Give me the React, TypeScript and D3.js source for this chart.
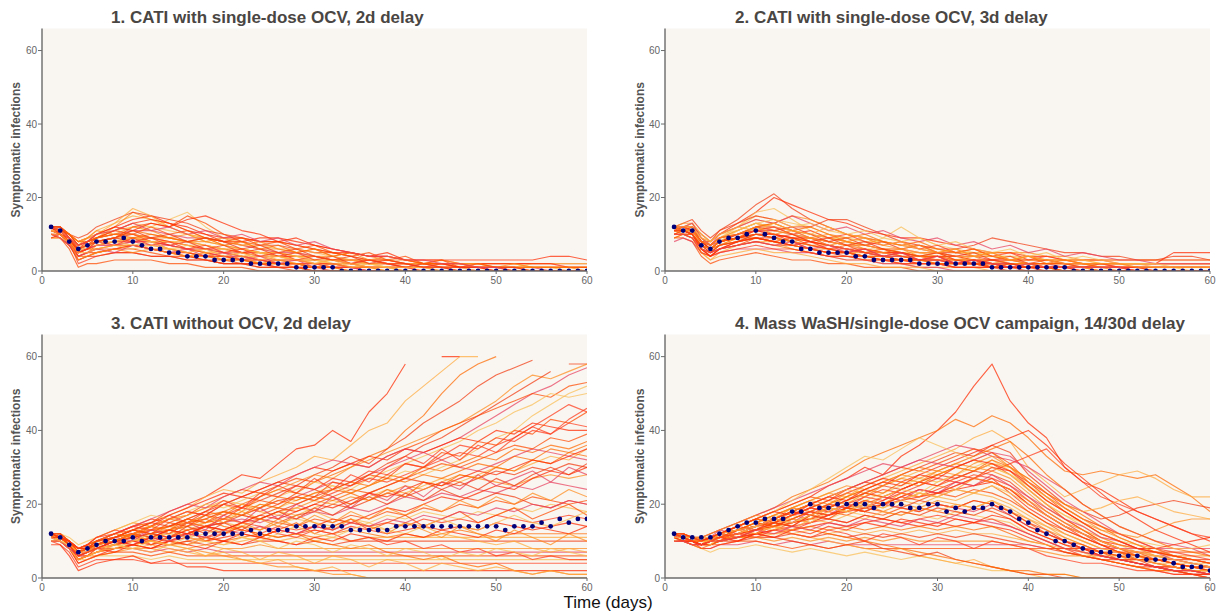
import React from 'react';
import * as d3 from 'd3';

// ---------- DATA ----------
// Grid of days on which each simulated run is recorded
const RUN_DAYS = [1, 2, 3, 4, 5, 6, 8, 10, 12, 14, 16, 18, 20, 22, 24, 26, 28, 30, 32, 34, 36, 38, 40, 42, 44, 46, 48, 50, 52, 54, 56, 58, 60];

const X_TICKS = [0, 10, 20, 30, 40, 50, 60];
const Y_TICKS = [0, 20, 40, 60];

const TITLES = [
  '1. CATI with single-dose OCV, 2d delay',
  '2. CATI with single-dose OCV, 3d delay',
  '3. CATI without OCV, 2d delay',
  '4. Mass WaSH/single-dose OCV campaign, 14/30d delay',
];

// Median (navy dots), days 1..60
const MEDIAN_1 = [12, 11, 8, 6, 7, 8, 8, 8, 9, 8, 7, 6, 6, 5, 5, 4, 4, 4, 3, 3, 3, 3, 2, 2, 2, 2, 2, 1, 1, 1, 1, 1, 0, 0, 0, 0, 0, 0, 0, 0, 0, 0, 0, 0, 0, 0, 0, 0, 0, 0, 0, 0, 0, 0, 0, 0, 0, 0, 0, 0];
const MEDIAN_2 = [12, 11, 11, 7, 6, 8, 9, 9, 10, 11, 10, 9, 8, 8, 6, 6, 5, 5, 5, 5, 4, 4, 3, 3, 3, 3, 3, 2, 2, 2, 2, 2, 2, 2, 2, 1, 1, 1, 1, 1, 1, 1, 1, 1, 0, 0, 0, 0, 0, 0, 0, 0, 0, 0, 0, 0, 0, 0, 0, 0];
const MEDIAN_3 = [12, 11, 9, 7, 8, 9, 10, 10, 10, 11, 10, 11, 11, 11, 11, 11, 12, 12, 12, 12, 12, 12, 13, 12, 13, 13, 13, 14, 14, 14, 14, 14, 14, 13, 13, 13, 13, 13, 14, 14, 14, 14, 14, 14, 14, 14, 14, 14, 14, 14, 13, 14, 14, 14, 15, 14, 16, 15, 16, 16];
const MEDIAN_4 = [12, 11, 11, 11, 11, 12, 13, 14, 15, 15, 16, 16, 16, 18, 18, 20, 19, 19, 20, 20, 20, 20, 19, 20, 20, 20, 19, 19, 20, 20, 18, 19, 18, 19, 19, 20, 19, 18, 16, 15, 13, 12, 10, 10, 9, 8, 7, 7, 7, 6, 6, 6, 5, 5, 5, 4, 3, 3, 3, 2];

// Simulated runs (values on RUN_DAYS; x = above the plotted range)
const RUNS_1 = [
  '12 11 9 6 7 8 9 10 8 7 6 5 4 3 3 2 2 1 1 1 0 0 0 0 0 0 0 0 0 0 0 0 0',
  '11 10 8 5 6 7 8 9 8 6 5 4 4 3 2 2 1 1 1 0 0 0 0 0 0 0 0 0 0 0 0 0 0',
  '12 12 10 8 9 11 13 15 14 12 10 9 7 6 5 4 3 3 2 2 1 1 1 0 0 0 0 0 0 0 0 0 0',
  '10 9 7 3 4 5 6 7 6 5 4 3 3 2 2 1 1 0 0 0 0 0 0 0 0 0 0 0 0 0 0 0 0',
  '12 11 10 7 8 9 12 16 14 13 11 9 8 7 6 6 5 4 4 3 3 2 2 2 2 1 1 1 1 1 1 1 1',
  '11 11 9 6 6 7 7 8 7 7 6 6 5 5 4 4 3 3 3 2 2 2 1 1 1 1 0 0 0 0 0 0 0',
  '12 10 8 4 5 5 6 6 5 4 4 3 2 2 1 1 1 0 0 0 0 0 0 0 0 0 0 0 0 0 0 0 0',
  '9 9 7 5 7 9 11 13 12 14 16 12 9 8 6 5 4 3 2 2 1 1 0 0 0 0 0 0 0 0 0 0 0',
  '12 11 8 2 3 4 5 5 4 4 3 3 2 2 2 1 1 1 0 0 0 0 0 0 0 0 0 0 0 0 0 0 0',
  '11 12 10 8 9 10 12 14 15 13 12 10 9 9 8 8 7 6 5 5 4 4 3 3 3 3 3 3 3 3 4 4 3',
  '12 11 9 6 7 8 9 11 10 9 8 7 6 5 4 3 3 2 2 1 1 1 0 0 0 0 0 0 0 0 0 0 0',
  '10 10 8 6 6 6 7 7 7 6 6 5 5 4 4 4 3 3 3 3 2 2 2 1 1 1 1 1 0 0 0 0 0',
  '12 11 10 9 10 12 14 16 15 14 13 11 10 8 7 7 6 5 5 4 3 3 2 2 2 2 2 2 2 2 2 2 2',
  '11 10 9 4 5 7 8 9 9 8 7 6 5 4 3 3 2 2 2 1 1 0 0 0 0 0 0 0 0 0 0 0 0',
  '12 12 9 7 8 9 10 11 11 10 9 9 8 7 6 5 5 4 3 3 3 2 2 1 1 1 1 1 1 1 0 0 0',
  '10 9 6 1 2 2 3 3 3 2 2 1 1 1 0 0 0 0 0 0 0 0 0 0 0 0 0 0 0 0 0 0 0',
  '12 11 10 8 9 10 11 12 12 11 10 8 7 6 5 4 4 3 3 2 2 1 1 1 1 1 0 0 0 0 0 0 0',
  '11 11 8 5 6 7 8 8 8 7 6 5 4 4 3 3 3 2 2 2 1 1 1 1 1 1 1 1 1 1 1 1 1',
  '12 10 8 6 7 9 10 10 9 8 7 6 6 5 5 4 4 4 3 3 2 2 1 1 1 0 0 0 0 0 0 0 0',
  '9 9 7 4 4 5 6 7 6 6 5 4 3 3 2 2 2 1 1 1 1 1 1 1 0 0 0 0 0 0 0 0 0',
  '12 11 9 7 8 10 13 17 15 12 10 9 8 7 7 6 6 5 4 3 3 3 2 2 2 2 2 2 2 1 1 1 1',
  '11 10 7 3 4 4 5 5 4 4 3 3 2 2 1 1 0 0 0 0 0 0 0 0 0 0 0 0 0 0 0 0 0',
  '12 12 10 8 9 9 10 10 9 9 8 8 7 6 5 5 4 4 3 3 3 2 2 2 2 2 1 1 1 1 1 1 1',
  '10 10 8 5 6 7 7 8 8 7 6 6 5 4 3 2 2 1 1 1 0 0 0 0 0 0 0 0 0 0 0 0 0',
  '12 11 9 6 7 8 9 12 13 12 15 13 10 9 8 8 7 6 5 4 3 3 2 2 1 1 1 1 0 0 0 0 0',
  '11 11 9 7 7 8 8 9 8 8 7 7 6 6 5 4 3 3 2 2 2 1 1 1 1 1 1 1 1 2 2 2 2',
  '12 10 8 4 5 6 6 7 6 5 5 4 4 3 3 2 2 2 1 1 1 1 1 0 0 0 0 0 0 0 0 0 0',
  '11 11 10 7 8 9 11 13 14 13 11 10 8 8 9 9 8 7 6 5 4 4 3 3 3 2 2 2 2 2 2 1 1',
  '12 11 9 5 6 6 7 7 6 5 4 4 3 3 2 2 2 1 1 0 0 0 0 0 0 0 0 0 0 0 0 0 0',
  '10 9 8 6 7 8 9 9 8 8 8 7 6 6 5 5 4 4 3 3 2 2 2 2 2 2 2 1 1 1 1 0 0',
  '11 10 8 5 6 8 9 8 9 7 8 6 7 5 6 4 5 3 4 2 3 2 1 2 1 0 0 0 0 0 0 0 0',
  '12 11 9 7 9 11 10 12 11 9 10 8 9 7 8 6 5 6 4 5 3 4 3 2 3 2 2 1 2 1 1 1 0',
  '10 9 7 4 5 6 5 7 6 5 6 4 5 3 4 2 3 1 2 1 0 0 0 0 0 0 0 0 0 0 0 0 0',
  '12 12 10 7 8 9 11 10 12 10 11 9 8 9 7 8 6 7 5 4 5 3 4 2 3 1 2 1 1 0 0 0 0',
  '11 11 9 6 7 7 8 7 8 6 7 5 6 4 5 3 4 2 3 1 2 1 0 0 0 0 0 0 0 0 0 0 0',
  '12 10 9 5 6 8 7 9 7 8 6 7 5 6 4 5 3 4 3 2 3 2 2 1 2 1 1 0 0 0 0 0 0',
  '9 10 8 6 8 10 12 11 13 12 14 15 13 11 10 8 9 7 6 5 4 5 3 2 2 1 1 0 0 0 0 0 0',
  '12 11 10 8 8 9 10 9 10 9 8 9 7 8 6 7 5 6 4 5 4 3 3 2 2 2 1 1 1 1 1 1 1',
  '11 10 8 5 5 6 7 6 7 6 5 6 4 5 3 4 3 2 3 2 1 1 1 1 0 0 0 0 0 0 0 0 0',
  '12 12 9 6 7 8 9 11 9 10 8 9 8 6 7 5 6 4 3 4 2 3 2 1 1 1 1 1 1 0 0 0 0',
  '10 10 8 3 4 5 6 5 6 5 4 5 3 4 2 3 2 1 2 1 1 0 0 0 0 0 0 0 0 0 0 0 0',
  '12 11 9 7 8 10 11 13 11 12 10 11 9 10 8 9 7 8 6 5 4 4 3 3 2 2 1 1 0 0 0 0 0',
];

const RUNS_2 = [
  '12 11 11 7 6 8 9 11 10 8 6 5 5 4 3 3 2 2 2 2 1 1 1 1 1 0 0 0 0 0 0 0 0',
  '11 12 13 9 7 9 11 13 12 10 8 7 6 5 4 4 3 3 2 2 2 1 1 1 0 0 0 0 0 0 0 0 0',
  '10 10 9 5 3 5 7 8 8 6 5 4 3 3 2 2 1 1 1 1 0 0 0 0 0 0 0 0 0 0 0 0 0',
  '12 13 14 11 9 11 14 18 21 17 14 12 10 9 8 7 6 5 5 4 4 3 3 3 3 3 3 3 3 3 4 4 3',
  '11 11 10 6 5 7 9 10 9 8 7 6 5 5 4 4 3 3 3 3 2 2 2 2 2 2 1 1 1 1 1 1 1',
  '12 12 11 8 7 9 10 12 12 11 9 8 7 6 5 5 4 4 3 3 3 2 2 2 1 1 1 1 0 0 0 0 0',
  '9 9 8 4 2 3 4 5 4 3 3 2 2 1 1 1 0 0 0 0 0 0 0 0 0 0 0 0 0 0 0 0 0',
  '12 11 12 9 8 10 12 15 14 13 12 10 8 7 6 5 4 4 3 3 2 2 2 1 1 1 1 1 1 1 1 0 0',
  '11 10 10 7 6 7 8 9 9 8 7 6 6 5 5 4 4 3 3 2 2 2 1 1 1 1 0 0 0 0 0 0 0',
  '12 12 11 8 8 10 13 16 20 18 16 14 13 11 10 9 9 8 7 6 5 5 4 4 3 3 3 2 2 2 2 2 2',
  '10 11 10 6 4 6 7 8 7 6 5 4 4 3 3 2 2 2 1 1 1 1 1 1 0 0 0 0 0 0 0 0 0',
  '12 12 12 9 7 8 10 11 11 10 9 8 7 6 6 5 5 4 4 3 3 2 2 2 2 2 2 2 2 2 2 2 2',
  '11 11 10 7 5 6 7 8 7 7 6 5 4 4 3 3 3 3 2 2 2 2 2 1 1 1 1 1 1 1 1 1 1',
  '12 13 13 10 8 10 12 14 13 15 14 12 10 9 8 7 7 6 5 5 5 5 5 4 4 3 3 3 3 3 3 3 3',
  '8 9 8 5 4 5 6 6 6 5 5 4 3 3 2 2 1 1 0 0 0 0 0 0 0 0 0 0 0 0 0 0 0',
  '12 11 11 8 6 8 9 10 10 9 8 7 6 5 4 3 3 3 2 2 1 1 1 1 1 1 1 1 1 0 0 0 0',
  '11 12 12 9 7 9 12 16 17 14 11 9 8 7 9 12 9 7 6 5 4 4 3 3 2 2 2 2 1 1 1 1 1',
  '12 11 10 6 5 6 8 9 8 7 6 5 5 4 4 3 2 2 1 1 1 0 0 0 0 0 0 0 0 0 0 0 0',
  '10 10 10 7 6 8 9 11 10 9 8 7 6 6 5 5 4 4 4 3 3 3 2 2 2 2 2 2 2 2 2 2 2',
  '12 12 11 8 7 9 10 12 13 11 10 9 8 7 6 5 4 4 3 3 2 2 2 2 2 1 1 1 1 1 1 1 1',
  '11 10 9 5 3 4 5 6 5 5 4 3 2 2 1 1 1 0 0 0 0 0 0 0 0 0 0 0 0 0 0 0 0',
  '12 12 12 10 8 11 13 15 14 12 12 14 14 12 10 8 7 6 6 7 9 8 7 6 5 5 4 4 3 3 3 3 3',
  '11 11 10 7 6 7 9 10 9 8 7 7 6 5 5 4 4 3 3 3 2 2 2 1 1 1 0 0 0 0 0 0 0',
  '12 11 11 8 7 8 10 11 11 10 9 7 6 5 4 4 3 3 2 2 2 2 1 1 1 1 1 1 1 1 1 1 1',
  '10 11 11 8 6 8 9 9 8 7 6 5 5 4 3 3 3 2 2 2 1 1 1 1 1 1 1 1 0 0 0 0 0',
  '12 12 13 10 8 10 11 13 12 11 10 9 9 8 8 7 6 6 5 5 4 4 4 3 3 3 2 2 2 2 2 2 2',
  '11 11 10 6 4 5 6 7 6 6 5 4 4 3 3 2 2 2 1 1 1 1 0 0 0 0 0 0 0 0 0 0 0',
  '12 12 11 8 6 8 9 10 10 9 9 8 7 7 6 6 5 5 4 4 3 3 3 3 2 2 2 2 2 2 5 5 5',
  '9 10 9 6 5 7 8 9 8 7 6 6 5 4 4 3 3 2 2 2 2 1 1 1 1 1 1 0 0 0 0 0 0',
  '12 12 11 9 7 9 11 13 11 10 9 8 7 7 6 6 5 5 4 4 4 3 3 3 3 3 2 2 2 2 2 2 2',
  '12 11 12 8 6 8 10 12 11 12 10 8 9 7 8 6 7 5 4 5 3 4 2 3 2 1 2 1 1 0 0 0 0',
  '11 11 10 6 5 7 8 10 9 8 9 7 8 6 5 6 4 5 3 4 2 3 2 1 1 1 0 0 0 0 0 0 0',
  '12 12 13 9 7 10 12 14 13 15 13 11 12 10 11 9 8 9 7 8 6 7 5 6 4 5 4 3 3 2 2 2 2',
  '10 10 9 5 4 6 7 9 8 9 7 6 7 5 6 4 3 4 2 3 1 2 1 1 0 0 0 0 0 0 0 0 0',
  '12 11 11 7 6 8 11 13 14 12 13 11 10 11 9 8 9 7 8 6 5 6 4 5 3 4 3 2 2 2 1 1 1',
  '11 12 11 8 7 9 10 11 12 10 11 9 10 8 7 8 6 7 5 6 4 5 3 4 3 2 2 1 1 1 1 1 1',
  '12 11 10 6 4 6 8 9 8 7 8 6 5 6 4 5 3 4 2 3 2 1 1 0 0 0 0 0 0 0 0 0 0',
  '9 10 10 7 6 8 9 12 13 11 12 10 9 10 8 7 8 6 5 6 4 3 4 2 3 2 1 1 0 0 0 0 0',
  '12 12 12 9 8 10 12 11 13 11 10 12 10 9 7 8 6 5 6 4 5 3 4 3 2 2 2 2 2 1 1 1 1',
  '11 11 10 7 5 7 8 10 9 10 8 9 7 8 6 5 4 5 3 2 3 2 1 1 1 0 0 0 0 0 0 0 0',
  '12 11 11 8 7 9 10 12 10 11 9 10 8 9 7 6 7 5 6 4 5 3 4 3 3 2 2 2 1 1 1 1 1',
  '10 10 9 6 5 6 7 8 7 8 6 7 5 6 4 5 3 4 2 3 2 1 2 1 1 1 1 1 0 0 0 0 0',
];

const RUNS_3 = [
  '12 11 10 8 9 10 12 14 15 18 20 22 25 28 27 31 35 36 40 37 45 50 58 x 60 60 x x x x x x x',
  '11 11 9 6 7 8 10 12 13 14 16 18 17 20 22 24 23 26 28 30 33 35 40 44 50 55 58 60 x x x x x',
  '12 10 9 7 8 9 11 13 15 17 19 22 24 23 26 28 30 33 32 36 40 42 48 52 56 60 60 x x x x x x',
  '12 11 9 7 8 9 11 12 14 16 18 17 20 22 24 26 25 28 30 33 31 35 38 42 45 48 52 55 57 59 x 58 58',
  '12 12 10 8 9 11 13 15 14 16 17 19 20 18 22 24 26 28 27 30 32 34 36 38 40 42 45 48 52 55 54 56 58',
  '11 11 9 6 7 8 10 11 13 12 15 16 18 17 19 21 22 24 26 25 28 30 32 34 36 38 41 44 47 50 52 55 57',
  '12 11 10 8 8 10 12 14 16 15 17 20 22 24 23 25 27 26 29 31 30 33 35 37 40 42 44 46 48 50 49 52 53',
  '10 10 8 5 6 8 9 11 12 13 14 15 16 18 20 19 21 23 25 24 27 29 31 33 35 37 40 42 45 47 50 49 50',
  '12 11 9 7 8 9 10 12 13 14 16 15 17 19 18 20 22 21 23 25 27 26 28 30 32 34 33 36 38 41 44 47 45',
  '11 12 10 7 8 10 11 13 15 17 19 21 23 22 24 26 28 30 29 31 33 32 35 34 36 38 37 40 39 42 41 40 40',
  '12 11 10 8 9 10 12 13 14 16 15 17 18 20 19 22 21 23 24 26 25 28 27 30 29 31 33 32 35 34 36 35 37',
  '12 10 8 6 7 8 9 10 11 12 13 14 15 14 16 18 17 19 21 20 22 24 23 25 27 26 28 30 29 31 33 32 35',
  '11 11 9 7 8 9 10 11 12 11 13 14 13 15 16 15 17 18 20 19 21 23 22 24 26 25 27 29 28 30 29 31 30',
  '12 11 10 7 8 9 11 12 13 14 13 15 16 17 16 18 19 21 20 22 21 23 25 24 26 28 27 26 25 27 28 27 28',
  '12 12 9 7 7 8 10 11 12 13 12 14 15 16 15 17 16 18 17 19 18 20 22 21 23 22 24 23 25 24 26 25 24',
  '10 10 8 6 6 7 9 10 11 10 12 13 12 14 13 15 14 16 15 17 16 18 17 19 18 20 19 21 20 22 21 20 21',
  '12 11 9 6 7 8 9 10 11 12 11 12 13 14 13 15 16 15 14 16 15 17 16 18 17 16 18 17 19 18 20 19 18',
  '11 11 10 7 8 9 10 11 10 11 12 11 12 13 12 14 13 14 13 15 14 15 14 16 15 16 15 17 16 15 16 17 16',
  '12 11 9 7 8 8 9 10 9 10 11 10 11 12 11 13 12 13 12 14 13 12 13 14 13 14 13 15 14 13 14 15 14',
  '12 10 8 5 6 7 8 9 10 9 10 11 10 11 12 11 12 11 12 13 12 11 12 11 12 13 12 11 12 12 12 12 12',
  '11 11 9 6 7 8 9 9 10 9 9 10 9 10 11 10 11 10 11 10 11 11 11 11 11 11 11 11 11 11 11 11 11',
  '12 11 9 7 7 8 8 9 8 9 10 9 10 9 10 10 9 10 9 10 10 10 10 10 10 10 10 10 10 10 10 10 10',
  '10 10 8 5 6 6 7 8 8 7 8 9 8 8 9 8 8 8 8 8 8 8 8 8 8 8 8 8 8 8 8 8 8',
  '12 11 9 6 6 7 8 8 7 8 7 8 7 7 7 7 7 7 7 7 7 7 7 7 7 7 7 7 7 7 7 7 7',
  '11 10 8 4 5 6 7 7 6 7 6 6 6 6 6 6 6 6 6 6 6 6 6 6 6 6 6 6 6 6 6 6 6',
  '12 11 8 5 5 6 6 6 5 6 5 5 5 5 5 5 5 5 5 5 5 5 5 5 5 5 5 5 5 5 5 5 5',
  '10 9 7 3 4 5 5 5 4 4 4 4 4 4 4 4 4 4 4 4 4 4 4 4 4 4 4 4 4 4 4 4 4',
  '9 9 6 2 3 4 5 6 4 5 3 3 2 2 2 2 2 2 2 2 2 2 2 2 2 2 2 2 2 2 2 2 2',
  '12 11 10 8 9 10 11 13 12 14 15 16 14 13 12 11 12 10 9 8 9 7 6 5 6 4 3 4 2 1 2 1 1',
  '11 12 10 7 8 9 10 12 14 16 17 19 21 20 18 17 19 18 16 15 14 13 15 14 12 11 10 9 10 8 7 8 7',
  '12 11 9 6 7 9 11 13 15 14 16 18 20 22 21 23 25 24 22 20 23 25 27 26 24 22 21 23 22 20 19 21 20',
  '10 10 8 5 6 7 8 9 10 9 8 7 6 5 4 3 3 2 1 1 0 0 0 0 0 0 0 0 0 0 0 0 0',
  '12 11 9 7 8 10 12 14 16 18 20 19 22 24 26 25 28 30 32 31 30 33 35 34 32 30 29 31 33 35 34 33 32',
  '11 11 10 8 8 9 10 11 12 13 15 14 16 15 17 19 18 20 22 24 23 25 27 29 31 30 32 34 36 35 38 37 39',
  '12 12 11 9 10 11 13 15 17 16 18 20 19 21 23 22 24 26 25 23 25 27 29 28 30 32 35 38 40 44 47 50 52',
  '12 11 9 6 7 8 9 10 9 11 12 14 13 15 14 12 11 13 12 10 11 9 10 8 9 7 8 6 7 5 6 5 5',
  '11 10 8 4 5 6 8 9 8 10 9 11 10 12 11 13 12 14 16 15 17 19 18 20 22 21 23 25 24 27 29 28 30',
  '12 11 10 7 8 9 11 12 11 13 14 16 18 17 19 21 20 22 21 23 25 27 26 28 27 29 31 30 33 32 35 34 36',
  '10 10 8 5 6 7 8 8 9 8 7 6 7 5 4 5 3 2 3 1 0 0 0 0 0 0 0 0 0 0 0 0 0',
  '12 11 9 6 7 8 10 12 11 13 12 14 15 17 16 18 20 22 24 26 28 31 33 36 38 41 44 47 50 53 56 x x',
  '12 11 9 7 8 10 9 12 10 13 11 14 12 15 13 16 14 17 15 18 16 19 17 20 18 21 19 22 20 23 21 24 22',
  '11 10 8 6 7 9 11 10 13 12 15 13 17 15 19 16 20 18 22 19 23 21 25 22 26 24 28 25 27 29 26 30 28',
  '12 11 10 7 9 8 10 12 9 11 13 10 12 14 11 13 15 12 14 16 13 15 17 14 16 18 15 17 19 16 18 20 17',
  '10 11 9 6 7 9 8 10 12 10 9 11 13 11 10 12 14 12 11 13 15 13 12 14 16 14 13 15 17 15 14 16 18',
  '12 12 10 8 9 11 13 12 14 17 15 18 21 19 22 25 23 27 24 28 26 30 33 31 35 32 36 34 38 41 39 43 46',
  '11 11 9 5 6 8 7 9 8 10 9 8 10 9 11 10 9 11 10 12 11 10 12 11 13 12 11 13 12 14 13 12 14',
  '12 11 9 7 8 10 12 11 14 13 16 15 18 17 20 19 22 21 24 23 21 24 22 26 25 28 27 30 29 32 31 34 33',
  '12 10 8 5 6 7 9 8 7 9 8 6 8 7 5 7 6 4 6 5 3 5 4 2 4 3 2 3 2 1 2 1 1',
  '11 11 10 8 8 10 11 13 12 11 14 12 15 13 16 18 16 19 17 20 22 20 23 21 24 26 24 27 25 28 30 28 31',
  '12 11 9 6 7 9 10 12 14 12 15 17 15 18 16 14 17 15 13 16 14 12 15 13 11 14 12 10 13 11 9 12 10',
  '10 10 8 6 7 8 10 9 11 10 12 11 13 12 14 13 12 14 13 15 14 16 15 17 16 18 17 19 18 20 19 21 20',
  '12 12 10 7 8 9 11 13 12 15 14 17 16 19 21 20 23 22 26 25 28 27 31 30 34 33 37 36 40 39 43 42 45',
  '11 10 9 7 7 8 9 8 10 9 11 10 9 11 10 8 10 9 7 9 8 6 8 7 5 7 6 8 7 6 8 7 6',
  '12 11 10 8 9 11 12 14 13 16 18 17 20 19 23 22 25 24 27 26 29 28 31 30 33 36 35 38 37 40 39 42 41',
  '12 11 9 6 7 8 10 9 11 13 12 14 13 15 17 16 18 20 19 21 23 22 24 26 25 27 29 28 30 32 31 33 35',
];

const RUNS_4 = [
  '12 11 11 10 11 12 14 16 18 20 22 25 27 30 28 33 36 40 45 52 58 48 42 38 30 26 24 21 18 16 14 12 10',
  '11 11 10 11 12 13 15 17 19 22 24 26 29 32 34 36 38 40 43 41 44 42 38 33 29 28 29 28 27 28 25 22 18',
  '12 12 11 10 11 12 13 15 17 19 21 23 22 25 27 29 31 33 35 38 40 37 30 26 22 24 26 28 29 27 24 22 22',
  '12 11 10 10 11 11 13 14 16 18 20 22 24 26 25 28 30 32 34 33 36 34 28 24 20 18 16 17 19 20 21 20 19',
  '11 10 10 9 10 11 12 14 15 17 19 21 20 23 22 24 26 28 30 32 34 30 25 21 18 15 13 12 11 13 15 16 16',
  '12 11 11 11 12 13 15 17 19 21 23 25 27 29 31 30 32 34 36 35 33 32 30 27 24 20 17 14 12 10 9 8 6',
  '12 12 11 10 11 12 14 16 18 20 22 21 24 26 28 30 29 31 33 35 34 31 26 22 18 15 12 10 8 7 6 5 4',
  '11 11 10 10 10 11 13 15 17 16 18 20 22 21 23 25 27 26 28 30 32 29 24 20 17 14 11 9 7 6 5 4 3',
  '12 11 10 9 10 11 12 13 14 16 18 17 19 21 20 22 24 23 25 27 26 24 20 17 14 12 10 8 7 6 5 4 3',
  '12 11 11 10 11 12 13 14 15 17 19 18 20 19 21 23 22 24 26 25 27 23 19 16 13 11 9 8 6 5 4 3 2',
  '10 10 10 9 10 10 12 14 16 18 17 19 18 20 22 21 23 22 24 23 25 22 18 15 12 10 8 7 6 5 4 3 2',
  '12 11 10 10 11 12 13 15 16 15 17 19 21 20 19 21 20 22 21 23 22 20 17 14 11 9 7 6 5 4 3 2 1',
  '11 11 11 10 10 11 12 13 14 16 15 17 19 18 20 19 21 20 19 21 20 18 15 13 10 8 7 5 4 3 3 2 2',
  '12 12 11 11 11 12 13 14 15 16 18 17 19 20 18 20 19 21 20 19 21 18 16 13 11 9 7 6 4 3 2 2 1',
  '12 11 10 10 10 11 12 13 15 17 18 20 19 18 20 19 18 20 19 18 20 17 14 12 10 8 6 5 4 3 2 1 1',
  '11 10 10 9 9 10 11 12 13 15 16 18 17 19 18 17 19 18 17 19 18 16 13 11 9 7 6 5 4 3 2 1 0',
  '12 11 11 10 11 11 12 13 14 15 17 16 18 17 16 18 17 16 18 17 16 15 12 10 8 7 5 4 3 2 2 1 0',
  '12 11 10 10 10 11 12 12 13 14 15 16 15 17 16 15 16 17 16 15 16 14 12 10 8 6 5 4 3 2 1 1 0',
  '10 10 9 9 10 10 11 12 13 13 14 15 14 15 16 15 14 15 14 15 14 13 11 9 7 6 5 4 3 3 2 1 1',
  '12 11 11 10 10 11 11 12 12 13 14 13 14 13 14 13 14 13 14 13 14 12 10 9 7 6 5 4 3 2 2 2 2',
  '11 11 10 10 10 10 11 11 12 12 13 12 13 12 13 12 13 12 13 12 12 11 10 9 8 7 6 5 5 4 4 4 4',
  '12 11 10 9 9 10 10 11 11 12 11 12 11 12 11 12 11 12 11 12 11 10 9 8 7 6 5 5 5 5 5 5 5',
  '12 12 11 10 10 10 11 11 10 11 10 11 10 11 10 11 10 10 10 10 10 9 8 7 6 6 6 6 6 6 6 6 6',
  '10 10 9 8 8 9 9 10 9 10 9 10 9 9 9 9 9 9 9 9 9 9 9 8 8 8 8 8 8 8 8 8 8',
  '12 11 10 9 9 9 10 10 9 8 9 8 9 8 8 8 8 8 8 8 8 8 8 8 8 8 7 7 7 7 7 7 7',
  '11 10 9 8 7 8 8 9 8 7 8 7 6 7 6 5 6 5 4 3 2 2 1 1 1 0 0 0 0 0 0 0 0',
  '12 11 10 8 8 9 10 12 14 13 15 17 19 21 20 22 24 23 25 27 29 31 33 35 30 26 22 20 18 16 14 12 11',
  '12 11 11 10 11 12 14 16 15 17 19 21 23 25 27 26 28 30 32 34 36 38 40 36 31 27 23 19 16 13 11 9 7',
  '11 11 10 10 11 12 13 15 17 19 18 20 22 24 26 28 30 29 31 33 35 37 33 28 24 20 17 14 12 10 8 7 6',
  '12 12 11 10 10 11 12 13 14 12 11 10 9 8 7 8 6 5 4 5 3 2 1 0 0 0 0 0 0 0 0 0 0',
  '10 10 9 9 9 10 11 12 11 10 9 8 9 10 8 7 6 7 5 4 3 2 1 1 0 0 0 0 0 0 0 0 0',
  '12 11 10 10 10 11 13 15 17 19 21 23 25 24 26 28 27 29 31 30 29 27 23 19 16 13 10 8 6 4 3 2 2',
  '11 11 11 10 11 12 13 14 16 18 20 22 24 26 28 30 32 31 30 32 34 33 29 25 21 18 15 12 10 8 6 5 4',
  '12 11 10 9 10 11 12 14 16 18 20 19 21 23 22 24 26 25 27 29 31 28 24 20 16 13 10 8 7 5 4 3 3',
  '12 12 11 10 11 12 14 16 18 21 24 27 30 33 32 35 38 36 34 32 30 28 25 22 19 16 14 12 10 9 8 8 9',
  '11 10 10 9 10 11 12 13 15 17 19 18 20 22 24 23 25 27 26 28 27 25 21 17 14 11 9 7 5 4 3 2 1',
  '12 11 10 10 10 11 12 13 14 15 16 17 18 19 20 21 22 23 24 25 26 24 20 17 14 12 10 9 8 8 9 10 11',
  '10 10 9 8 9 10 11 13 15 14 13 12 11 10 9 8 7 6 5 4 3 2 2 1 1 0 0 0 0 0 0 0 0',
  '12 11 11 10 10 11 12 14 16 18 20 22 24 23 25 27 29 28 30 29 31 30 27 23 20 18 19 21 22 20 18 17 16',
  '12 11 10 9 10 11 13 14 16 18 17 19 21 23 25 24 26 28 27 29 28 26 22 18 15 12 9 7 5 3 2 1 1',
  '12 11 10 11 10 12 13 15 14 17 16 19 18 21 20 23 22 25 24 27 26 24 21 18 15 13 11 9 8 6 5 4 3',
  '11 12 11 10 11 13 12 14 16 15 18 17 20 19 22 21 24 23 26 25 28 25 22 19 16 14 11 10 8 7 5 4 3',
  '12 11 10 9 11 10 13 12 15 14 17 16 19 18 17 19 18 20 19 21 20 18 15 12 10 9 7 6 5 5 4 3 2',
  '10 11 10 10 9 11 12 14 13 16 15 18 20 19 22 24 23 26 28 27 30 28 24 20 17 15 12 10 9 7 6 5 4',
  '12 12 11 10 11 12 14 13 16 18 17 20 19 22 21 24 26 25 28 27 30 29 26 23 19 16 14 12 10 8 7 6 5',
  '11 10 10 9 10 11 10 12 11 13 12 14 13 15 14 16 15 14 16 15 17 16 13 11 9 8 6 5 4 3 3 2 1',
  '12 11 11 10 11 12 14 16 15 18 20 19 22 24 23 26 25 28 30 29 32 30 27 23 20 17 14 11 9 7 6 5 4',
  '12 11 10 10 10 11 13 12 14 13 16 15 17 16 18 17 19 18 20 19 21 19 16 14 12 10 8 7 5 4 3 2 2',
  '11 11 10 9 10 12 11 13 15 14 17 16 15 17 16 18 17 19 18 17 19 17 14 12 10 8 6 5 4 3 2 2 1',
  '12 12 11 11 12 13 15 17 16 19 21 20 23 22 25 27 26 29 28 31 33 30 26 22 19 16 13 11 9 8 6 5 4',
  '10 10 9 9 10 10 11 13 12 14 13 15 14 16 15 14 16 15 17 16 15 14 12 10 8 7 6 5 4 3 2 2 1',
  '12 11 10 10 11 11 13 15 14 16 18 17 19 18 20 22 21 23 22 24 23 21 18 15 13 11 9 7 6 5 4 3 3',
  '11 11 11 10 10 12 13 14 16 15 17 19 18 20 19 21 23 22 24 23 25 23 20 17 14 12 10 8 7 6 5 4 3',
  '12 11 10 9 10 11 12 11 13 12 11 13 12 10 12 11 9 11 10 8 10 9 8 6 5 4 4 3 2 2 1 1 0',
  '12 12 11 10 11 12 14 16 18 17 20 22 21 24 26 25 28 27 30 32 31 29 25 21 18 15 12 10 8 7 6 5 4',
];

const MEDIANS = [MEDIAN_1, MEDIAN_2, MEDIAN_3, MEDIAN_4];
const RUNS = [RUNS_1, RUNS_2, RUNS_3, RUNS_4];

// ---------- STYLE / LAYOUT ----------
const LINE_COLORS = ['#ff2a00', '#ff6a00', '#ffab3d', '#f23a10', '#ff8a1c', '#e8405e', '#ff4a00', '#f9be55', '#ff3a1a'];
const PANELS = [
  { left: 42, right: 587, top: 28.5, bottom: 271, titleX: 111, titleY: 23, yLabelX: 16 },
  { left: 665, right: 1210, top: 28.5, bottom: 271, titleX: 735, titleY: 23, yLabelX: 640 },
  { left: 42, right: 587, top: 334.5, bottom: 578, titleX: 111, titleY: 329, yLabelX: 16 },
  { left: 665, right: 1210, top: 334.5, bottom: 578, titleX: 735, titleY: 329, yLabelX: 640 },
];
const FONT = '"Liberation Sans", Arial, Helvetica, sans-serif';

function parseRun(s: string): [number, number | null][] {
  const vals = s.trim().split(/\s+/);
  return RUN_DAYS.slice(0, vals.length).map((d, i) => [d, vals[i] === 'x' ? null : +vals[i]]);
}

function Panel({ idx }: { idx: number }) {
  const p = PANELS[idx];
  const x = d3.scaleLinear().domain([0, 60]).range([p.left, p.right]);
  const y = d3.scaleLinear().domain([0, 66]).range([p.bottom, p.top]);
  const line = d3
    .line<[number, number | null]>()
    .defined((d) => d[1] != null)
    .x((d) => x(d[0]))
    .y((d) => y(d[1] as number));
  const clipId = `clip-${idx}`;
  const yMid = (p.top + p.bottom) / 2;
  return (
    <g>
      <defs>
        <clipPath id={clipId}>
          <rect x={p.left} y={p.top} width={p.right - p.left} height={p.bottom - p.top} />
        </clipPath>
      </defs>
      <rect x={p.left} y={p.top} width={p.right - p.left} height={p.bottom - p.top} fill="#f9f6f1" />
      <g clipPath={`url(#${clipId})`}>
        {RUNS[idx].map((s, i) => (
          <path
            key={i}
            d={line(parseRun(s)) || ''}
            fill="none"
            stroke={LINE_COLORS[i % LINE_COLORS.length]}
            strokeWidth={1.15}
            strokeOpacity={0.72}
            strokeLinejoin="round"
          />
        ))}
        {MEDIANS[idx].map((v, i) => (
          <circle key={i} cx={x(i + 1)} cy={y(v)} r={2.4} fill="#00007a" />
        ))}
      </g>
      {/* axes */}
      <line x1={p.left} x2={p.left} y1={p.top} y2={p.bottom} stroke="#6b6b6b" strokeWidth={1.4} />
      <line x1={p.left} x2={p.right} y1={p.bottom} y2={p.bottom} stroke="#6b6b6b" strokeWidth={1.4} />
      {Y_TICKS.map((t) => (
        <g key={`y${t}`}>
          <line x1={p.left - 4} x2={p.left} y1={y(t)} y2={y(t)} stroke="#6b6b6b" strokeWidth={1} />
          <text x={p.left - 5} y={y(t)} dy="0.35em" textAnchor="end" fontSize={10} fill="#666" fontFamily={FONT}>
            {t}
          </text>
        </g>
      ))}
      {X_TICKS.map((t) => (
        <g key={`x${t}`}>
          <line x1={x(t)} x2={x(t)} y1={p.bottom} y2={p.bottom + 3} stroke="#6b6b6b" strokeWidth={1} />
          <text x={x(t)} y={p.bottom + 13} textAnchor="middle" fontSize={10} fill="#666" fontFamily={FONT}>
            {t}
          </text>
        </g>
      ))}
      <text
        transform={`translate(${p.yLabelX + 4},${yMid}) rotate(-90)`}
        textAnchor="middle"
        fontSize={12}
        fontWeight="bold"
        fill="#555"
        fontFamily={FONT}
      >
        Symptomatic infections
      </text>
      <text x={p.titleX} y={p.titleY} fontSize={17} fontWeight="bold" fill="#4a4643" fontFamily={FONT}>
        {TITLES[idx]}
      </text>
    </g>
  );
}

export default function App() {
  return (
    <svg
      width={1222}
      height={615}
      style={{ position: 'absolute', left: 0, top: 0, background: '#fff' }}
    >
      <rect x={0} y={0} width={1222} height={615} fill="#fff" />
      {[0, 1, 2, 3].map((i) => (
        <Panel key={i} idx={i} />
      ))}
      <text x={608} y={608} textAnchor="middle" fontSize={17} fill="#111" fontFamily={FONT}>
        Time (days)
      </text>
    </svg>
  );
}
